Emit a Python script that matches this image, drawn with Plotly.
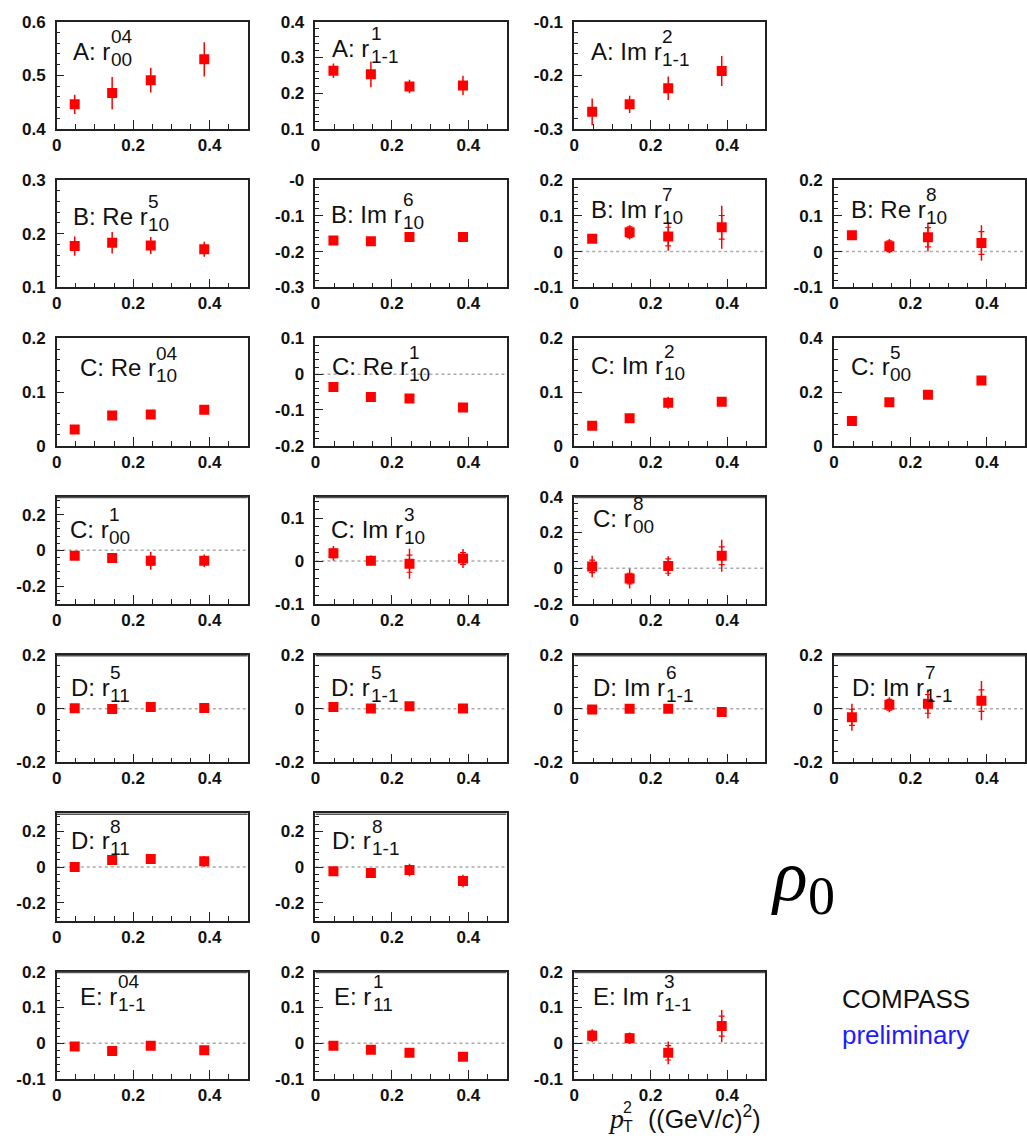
import plotly.graph_objects as go

W, H = 1027, 1145

# ---------------- data ----------------
pt2 = [0.047, 0.145, 0.246, 0.386]
x_ticks = [0, 0.2, 0.4]
x_ticklabels = ["0", "0.2", "0.4"]

A_r00_04 = [0.446, 0.467, 0.491, 0.530]
A_r00_04_err = [0.018, 0.030, 0.023, 0.032]
A_r1m1_1 = [0.263, 0.253, 0.219, 0.222]
A_r1m1_1_err = [0.020, 0.036, 0.019, 0.027]
A_Im_r1m1_2 = [-0.268, -0.254, -0.224, -0.192]
A_Im_r1m1_2_err = [0.025, 0.016, 0.022, 0.028]

B_Re_r10_5 = [0.177, 0.183, 0.178, 0.171]
B_Re_r10_5_err = [0.018, 0.020, 0.016, 0.014]
B_Im_r10_6 = [-0.169, -0.171, -0.159, -0.159]
B_Im_r10_6_err = [0.008, 0.010, 0.008, 0.009]
B_Im_r10_7 = [0.036, 0.054, 0.042, 0.068]
B_Im_r10_7_stat = [0.008, 0.015, 0.026, 0.033]
B_Im_r10_7_err = [0.011, 0.020, 0.040, 0.060]
B_Re_r10_8 = [0.046, 0.015, 0.040, 0.024]
B_Re_r10_8_stat = [0.008, 0.015, 0.027, 0.032]
B_Re_r10_8_err = [0.010, 0.020, 0.040, 0.050]

C_Re_r10_04 = [0.030, 0.056, 0.058, 0.067]
C_Re_r10_04_err = [0.006, 0.007, 0.007, 0.009]
C_Re_r10_1 = [-0.036, -0.064, -0.068, -0.093]
C_Re_r10_1_err = [0.007, 0.008, 0.008, 0.012]
C_Im_r10_2 = [0.037, 0.051, 0.080, 0.082]
C_Im_r10_2_err = [0.005, 0.006, 0.011, 0.008]
C_r00_5 = [0.092, 0.162, 0.190, 0.243]
C_r00_5_err = [0.010, 0.010, 0.011, 0.015]
C_r00_1 = [-0.030, -0.043, -0.058, -0.058]
C_r00_1_stat = [0.012, 0.012, 0.025, 0.018]
C_r00_1_err = [0.022, 0.020, 0.050, 0.035]
C_Im_r10_3 = [0.018, 0.001, -0.006, 0.006]
C_Im_r10_3_stat = [0.010, 0.008, 0.020, 0.014]
C_Im_r10_3_err = [0.017, 0.012, 0.035, 0.022]
C_r00_8 = [0.010, -0.058, 0.012, 0.070]
C_r00_8_stat = [0.035, 0.030, 0.040, 0.050]
C_r00_8_err = [0.060, 0.055, 0.055, 0.090]

D_r11_5 = [0.002, -0.001, 0.006, 0.003]
D_r11_5_err = [0.006, 0.006, 0.010, 0.008]
D_r1m1_5 = [0.006, 0.001, 0.009, 0.001]
D_r1m1_5_err = [0.007, 0.006, 0.009, 0.007]
D_Im_r1m1_6 = [-0.003, 0.000, 0.000, -0.012]
D_Im_r1m1_6_err = [0.007, 0.007, 0.008, 0.008]
D_Im_r1m1_7 = [-0.032, 0.015, 0.018, 0.030]
D_Im_r1m1_7_stat = [0.030, 0.020, 0.035, 0.040]
D_Im_r1m1_7_err = [0.050, 0.028, 0.055, 0.073]
D_r11_8 = [0.000, 0.040, 0.045, 0.032]
D_r11_8_err = [0.010, 0.022, 0.022, 0.030]
D_r1m1_8 = [-0.024, -0.033, -0.017, -0.078]
D_r1m1_8_err = [0.010, 0.015, 0.035, 0.035]

E_r1m1_04 = [-0.009, -0.022, -0.007, -0.020]
E_r1m1_04_err = [0.008, 0.009, 0.008, 0.010]
E_r11_1 = [-0.007, -0.018, -0.027, -0.038]
E_r11_1_err = [0.008, 0.009, 0.010, 0.011]
E_Im_r1m1_3 = [0.021, 0.014, -0.027, 0.048]
E_Im_r1m1_3_stat = [0.013, 0.012, 0.020, 0.028]
E_Im_r1m1_3_err = [0.018, 0.016, 0.032, 0.045]

# ---------------- panel configuration ----------------
# (row, col, values, total err, stat err, yrange, yticks, yticktext, minor, zero line, (prefix, sup, sub), label position px)
panels = [
    (0, 0, A_r00_04, A_r00_04_err, None, [0.4, 0.6], [0.4, 0.5, 0.6], ["0.4", "0.5", "0.6"], 0.02, False, ("A: r", "04", "00"), (66, 43)),
    (0, 1, A_r1m1_1, A_r1m1_1_err, None, [0.1, 0.4], [0.1, 0.2, 0.3, 0.4], ["0.1", "0.2", "0.3", "0.4"], 0.02, False, ("A: r", "1", "1-1"), (327, 40)),
    (0, 2, A_Im_r1m1_2, A_Im_r1m1_2_err, None, [-0.3, -0.1], [-0.3, -0.2, -0.1], ["-0.3", "-0.2", "-0.1"], 0.02, False, ("A: Im r", "2", "1-1"), (587, 43)),
    (1, 0, B_Re_r10_5, B_Re_r10_5_err, None, [0.1, 0.3], [0.1, 0.2, 0.3], ["0.1", "0.2", "0.3"], 0.02, False, ("B: Re r", "5", "10"), (66, 211)),
    (1, 1, B_Im_r10_6, B_Im_r10_6_err, None, [-0.3, 0.0], [-0.3, -0.2, -0.1, 0.0], ["-0.3", "-0.2", "-0.1", "-0"], 0.02, False, ("B: Im r", "6", "10"), (326, 209)),
    (1, 2, B_Im_r10_7, B_Im_r10_7_err, B_Im_r10_7_stat, [-0.1, 0.2], [-0.1, 0, 0.1, 0.2], ["-0.1", "0", "0.1", "0.2"], 0.02, True, ("B: Im r", "7", "10"), (587, 204)),
    (1, 3, B_Re_r10_8, B_Re_r10_8_err, B_Re_r10_8_stat, [-0.1, 0.2], [-0.1, 0, 0.1, 0.2], ["-0.1", "0", "0.1", "0.2"], 0.02, True, ("B: Re r", "8", "10"), (848, 204)),
    (2, 0, C_Re_r10_04, C_Re_r10_04_err, None, [0.0, 0.2], [0, 0.1, 0.2], ["0", "0.1", "0.2"], 0.02, False, ("C: Re r", "04", "10"), (73, 365)),
    (2, 1, C_Re_r10_1, C_Re_r10_1_err, None, [-0.2, 0.1], [-0.2, -0.1, 0, 0.1], ["-0.2", "-0.1", "0", "0.1"], 0.02, True, ("C: Re r", "1", "10"), (327, 364)),
    (2, 2, C_Im_r10_2, C_Im_r10_2_err, None, [0.0, 0.2], [0, 0.1, 0.2], ["0", "0.1", "0.2"], 0.02, False, ("C: Im r", "2", "10"), (587, 363)),
    (2, 3, C_r00_5, C_r00_5_err, None, [0.0, 0.4], [0, 0.2, 0.4], ["0", "0.2", "0.4"], 0.04, False, ("C: r", "5", "00"), (848, 364)),
    (3, 0, C_r00_1, C_r00_1_err, C_r00_1_stat, [-0.3, 0.3], [-0.2, 0, 0.2], ["-0.2", "0", "0.2"], 0.04, True, ("C: r", "1", "00"), (63, 529)),
    (3, 1, C_Im_r10_3, C_Im_r10_3_err, C_Im_r10_3_stat, [-0.1, 0.15], [-0.1, 0, 0.1], ["-0.1", "0", "0.1"], 0.02, True, ("C: Im r", "3", "10"), (326, 529)),
    (3, 2, C_r00_8, C_r00_8_err, C_r00_8_stat, [-0.2, 0.4], [-0.2, 0, 0.2, 0.4], ["-0.2", "0", "0.2", "0.4"], 0.04, True, ("C: r", "8", "00"), (589, 518)),
    (4, 0, D_r11_5, D_r11_5_err, None, [-0.2, 0.2], [-0.2, 0, 0.2], ["-0.2", "0", "0.2"], 0.04, True, ("D: r", "5", "11"), (64, 690)),
    (4, 1, D_r1m1_5, D_r1m1_5_err, None, [-0.2, 0.2], [-0.2, 0, 0.2], ["-0.2", "0", "0.2"], 0.04, True, ("D: r", "5", "1-1"), (326, 690)),
    (4, 2, D_Im_r1m1_6, D_Im_r1m1_6_err, None, [-0.2, 0.2], [-0.2, 0, 0.2], ["-0.2", "0", "0.2"], 0.04, True, ("D: Im r", "6", "1-1"), (589, 690)),
    (4, 3, D_Im_r1m1_7, D_Im_r1m1_7_err, D_Im_r1m1_7_stat, [-0.2, 0.2], [-0.2, 0, 0.2], ["-0.2", "0", "0.2"], 0.04, True, ("D: Im r", "7", "1-1"), (849, 690)),
    (5, 0, D_r11_8, D_r11_8_err, None, [-0.3, 0.3], [-0.2, 0, 0.2], ["-0.2", "0", "0.2"], 0.04, True, ("D: r", "8", "11"), (64, 846)),
    (5, 1, D_r1m1_8, D_r1m1_8_err, None, [-0.3, 0.3], [-0.2, 0, 0.2], ["-0.2", "0", "0.2"], 0.04, True, ("D: r", "8", "1-1"), (327, 846)),
    (6, 0, E_r1m1_04, E_r1m1_04_err, None, [-0.1, 0.2], [-0.1, 0, 0.1, 0.2], ["-0.1", "0", "0.1", "0.2"], 0.02, True, ("E: r", "04", "1-1"), (73, 1004)),
    (6, 1, E_r11_1, E_r11_1_err, None, [-0.1, 0.2], [-0.1, 0, 0.1, 0.2], ["-0.1", "0", "0.1", "0.2"], 0.02, True, ("E: r", "1", "11"), (329, 1004)),
    (6, 2, E_Im_r1m1_3, E_Im_r1m1_3_err, E_Im_r1m1_3_stat, [-0.1, 0.2], [-0.1, 0, 0.1, 0.2], ["-0.1", "0", "0.1", "0.2"], 0.02, True, ("E: Im r", "3", "1-1"), (589, 1004)),
]

col_left = [52, 312, 572, 833]
row_top = [13, 174, 335, 496, 657, 818, 979]
PW, PH = 192, 109

RED = "#ff0000"
FONT = "Liberation Sans"
CW = {"A": .667, "B": .667, "C": .722, "D": .722, "E": .667, "R": .722, "I": .278,
      ":": .278, " ": .278, "e": .556, "m": .833, "r": .333}
LBL = 24
SUPSZ = 19
TICKFONT = dict(family=FONT, size=17, color="#111", weight="bold")

fig = go.Figure()
layout = dict(width=W, height=H, margin=dict(l=0, r=0, t=0, b=0),
              paper_bgcolor="white", plot_bgcolor="white", showlegend=False)
annotations = []
shapes = []

for i, (r, c, vals, err, stat, yr, yt, ytt, minor, zl, lab, lpos) in enumerate(panels, start=1):
    xs = "" if i == 1 else str(i)
    xa, ya = "x" + xs, "y" + xs
    l, t = col_left[c], row_top[r]
    layout["xaxis" + xs] = dict(
        domain=[l / W, (l + PW) / W], anchor=ya, range=[0, 0.5],
        tickmode="array", tickvals=x_ticks, ticktext=x_ticklabels,
        ticks="inside", ticklen=9, tickwidth=1.3, tickcolor="#222",
        minor=dict(tickmode="linear", tick0=0, dtick=0.05, ticks="inside", ticklen=5, tickwidth=1, tickcolor="#222"),
        showline=True, mirror=True, linecolor="#222", linewidth=1.5,
        showgrid=False, zeroline=False, fixedrange=True,
        tickfont=TICKFONT,
    )
    layout["yaxis" + xs] = dict(
        domain=[1 - (t + PH) / H, 1 - t / H], anchor=xa, range=yr,
        tickmode="array", tickvals=yt, ticktext=ytt,
        ticks="inside", ticklen=8, tickwidth=1.3, tickcolor="#222",
        minor=dict(tickmode="linear", tick0=0, dtick=minor, ticks="inside", ticklen=4, tickwidth=1, tickcolor="#222"),
        showline=True, mirror=True, linecolor="#222", linewidth=1.5,
        showgrid=False, zeroline=False, fixedrange=True, ticklabelstandoff=6,
        tickfont=TICKFONT,
    )
    if zl:
        shapes.append(dict(type="line", xref=xa, yref=ya, x0=0, x1=0.5, y0=0, y1=0,
                           line=dict(color="#aaaaaa", width=1.5, dash="dot"), layer="below"))
    if r >= 3:
        shapes.append(dict(type="line", xref=xa, yref=ya, x0=0, x1=0.5, y0=yr[1], y1=yr[1],
                           line=dict(color="#555555", width=3), layer="above"))
    if stat is not None:
        fig.add_trace(go.Scatter(
            x=pt2, y=vals, xaxis=xa, yaxis=ya, mode="markers",
            marker=dict(size=1, color="rgba(0,0,0,0)"),
            error_y=dict(type="data", array=stat, visible=True, color=RED, thickness=1.2, width=3),
            hoverinfo="skip"))
    fig.add_trace(go.Scatter(
        x=pt2, y=vals, xaxis=xa, yaxis=ya, mode="markers",
        marker=dict(symbol="square", size=10, color=RED, line=dict(width=0)),
        error_y=dict(type="data", array=err, visible=True, color=RED, thickness=1.5, width=0)))

    # panel label (prefix + stacked superscript/subscript)
    pre, sup, sub = lab
    lx, ly = lpos
    wpx = sum(CW.get(ch, 0.5) for ch in pre) * LBL
    annotations.append(dict(text=pre, x=lx / W, y=1 - ly / H, xref="paper", yref="paper",
                            xanchor="left", yanchor="middle", showarrow=False,
                            font=dict(family=FONT, size=LBL, color="#111")))
    annotations.append(dict(text=sup, x=(lx + wpx + 1) / W, y=1 - (ly - 15) / H, xref="paper", yref="paper",
                            xanchor="left", yanchor="middle", showarrow=False,
                            font=dict(family=FONT, size=SUPSZ, color="#111")))
    annotations.append(dict(text=sub, x=(lx + wpx + 1) / W, y=1 - (ly + 8) / H, xref="paper", yref="paper",
                            xanchor="left", yanchor="middle", showarrow=False,
                            font=dict(family=FONT, size=SUPSZ, color="#111")))

# x-axis title under the bottom-right data panel
annotations += [
    dict(text="<i>p</i>", x=604 / W, y=1 - 1128 / H, xref="paper", yref="paper", xanchor="left", yanchor="middle",
         showarrow=False, font=dict(family="Liberation Serif", size=28, color="#111")),
    dict(text="2", x=619 / W, y=1 - 1117 / H, xref="paper", yref="paper", xanchor="left", yanchor="middle",
         showarrow=False, font=dict(family=FONT, size=16, color="#111")),
    dict(text="T", x=619 / W, y=1 - 1136 / H, xref="paper", yref="paper", xanchor="left", yanchor="middle",
         showarrow=False, font=dict(family=FONT, size=16, color="#111")),
    dict(text="((GeV/<i>c</i>)<sup>2</sup>)", x=644 / W, y=1 - 1127 / H, xref="paper", yref="paper",
         xanchor="left", yanchor="middle", showarrow=False, font=dict(family=FONT, size=25, color="#111")),
    # rho0
    dict(text="<i>ρ</i>", x=768 / W, y=1 - 882 / H, xref="paper", yref="paper", xanchor="left", yanchor="middle",
         showarrow=False, font=dict(family="Liberation Serif", size=72, color="#000")),
    dict(text="0", x=805 / W, y=1 - 902 / H, xref="paper", yref="paper", xanchor="left", yanchor="middle",
         showarrow=False, font=dict(family="Liberation Serif", size=54, color="#000")),
    # experiment tag
    dict(text="COMPASS", x=839 / W, y=1 - 1007 / H, xref="paper", yref="paper", xanchor="left", yanchor="middle",
         showarrow=False, font=dict(family=FONT, size=26, color="#111")),
    dict(text="preliminary", x=839 / W, y=1 - 1043 / H, xref="paper", yref="paper", xanchor="left", yanchor="middle",
         showarrow=False, font=dict(family=FONT, size=26, color="#1c1cff")),
]

layout["annotations"] = annotations
layout["shapes"] = shapes
fig.update_layout(**layout)
fig.write_html("out.html")
